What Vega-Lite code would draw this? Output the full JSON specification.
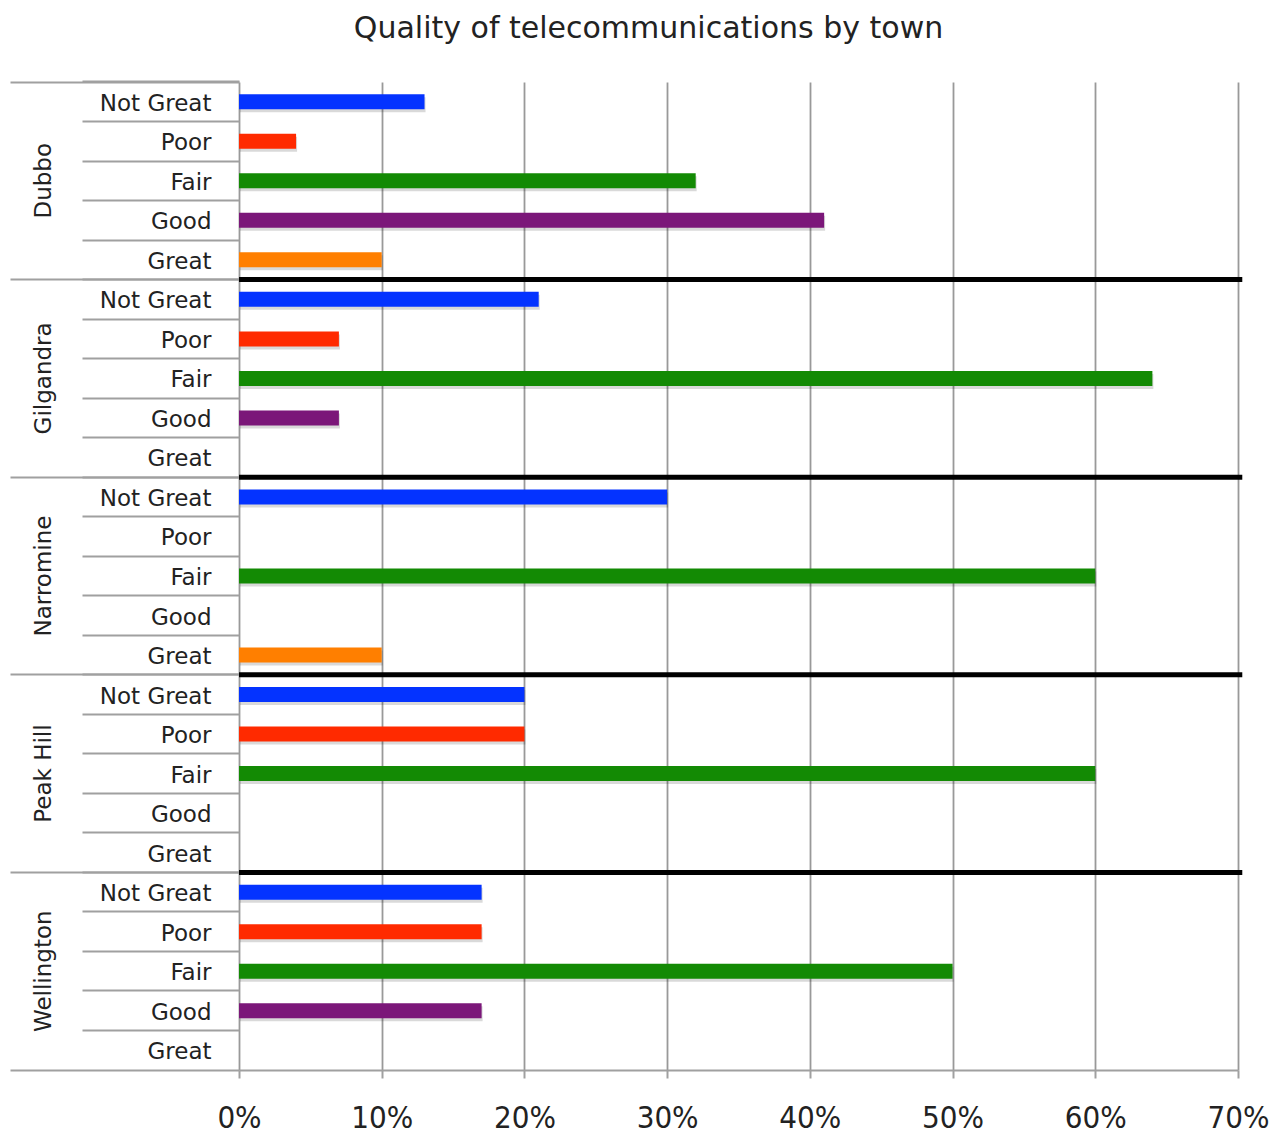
{
  "$schema": "https://vega.github.io/schema/vega-lite/v6.json",
  "width": 999,
  "height": 988,
  "autosize": {"type": "none"},
  "padding": {"left": 239, "top": 82, "right": 44, "bottom": 68},
  "background": "white",
  "title": {"text": "Quality of telecommunications by town", "anchor": "middle", "frame": "group", "dx": -90, "offset": 36, "fontSize": 30, "font": "DejaVu Sans", "fontWeight": "normal", "color": "#222"},
  "data": {"values": [
    {"town": "Dubbo", "category": "Not Great", "key": "Dubbo|Not Great", "value": 0.13},
    {"town": "Dubbo", "category": "Poor", "key": "Dubbo|Poor", "value": 0.04},
    {"town": "Dubbo", "category": "Fair", "key": "Dubbo|Fair", "value": 0.32},
    {"town": "Dubbo", "category": "Good", "key": "Dubbo|Good", "value": 0.41},
    {"town": "Dubbo", "category": "Great", "key": "Dubbo|Great", "value": 0.10},
    {"town": "Gilgandra", "category": "Not Great", "key": "Gilgandra|Not Great", "value": 0.21},
    {"town": "Gilgandra", "category": "Poor", "key": "Gilgandra|Poor", "value": 0.07},
    {"town": "Gilgandra", "category": "Fair", "key": "Gilgandra|Fair", "value": 0.64},
    {"town": "Gilgandra", "category": "Good", "key": "Gilgandra|Good", "value": 0.07},
    {"town": "Gilgandra", "category": "Great", "key": "Gilgandra|Great", "value": 0},
    {"town": "Narromine", "category": "Not Great", "key": "Narromine|Not Great", "value": 0.30},
    {"town": "Narromine", "category": "Poor", "key": "Narromine|Poor", "value": 0},
    {"town": "Narromine", "category": "Fair", "key": "Narromine|Fair", "value": 0.60},
    {"town": "Narromine", "category": "Good", "key": "Narromine|Good", "value": 0},
    {"town": "Narromine", "category": "Great", "key": "Narromine|Great", "value": 0.10},
    {"town": "Peak Hill", "category": "Not Great", "key": "Peak Hill|Not Great", "value": 0.20},
    {"town": "Peak Hill", "category": "Poor", "key": "Peak Hill|Poor", "value": 0.20},
    {"town": "Peak Hill", "category": "Fair", "key": "Peak Hill|Fair", "value": 0.60},
    {"town": "Peak Hill", "category": "Good", "key": "Peak Hill|Good", "value": 0},
    {"town": "Peak Hill", "category": "Great", "key": "Peak Hill|Great", "value": 0},
    {"town": "Wellington", "category": "Not Great", "key": "Wellington|Not Great", "value": 0.17},
    {"town": "Wellington", "category": "Poor", "key": "Wellington|Poor", "value": 0.17},
    {"town": "Wellington", "category": "Fair", "key": "Wellington|Fair", "value": 0.50},
    {"town": "Wellington", "category": "Good", "key": "Wellington|Good", "value": 0.17},
    {"town": "Wellington", "category": "Great", "key": "Wellington|Great", "value": 0}
  ]},
  "layer": [
    {
      "mark": {"type": "bar", "size": 15, "color": "#000", "opacity": 0.15, "yOffset": 3, "xOffset": 1},
      "encoding": {
        "y": {"field": "key", "type": "nominal", "sort": null,
              "scale": {"type": "band", "paddingInner": 0, "paddingOuter": 0},
              "axis": {"orient": "left", "title": null, "labels": false, "domain": false, "ticks": true, "bandPosition": 0, "tickSize": 157, "tickColor": "#a0a0a0", "tickWidth": 2}},
        "x": {"field": "value", "type": "quantitative", "scale": {"domain": [0, 0.7], "nice": false, "zero": true},
              "axis": {"title": null, "values": [0, 0.1, 0.2, 0.3, 0.4, 0.5, 0.6, 0.7], "format": ".0%", "grid": true, "gridColor": "#999", "gridWidth": 1.8, "domainColor": "#a0a0a0", "domainWidth": 2, "tickColor": "#a0a0a0", "tickWidth": 2, "tickSize": 8, "labelFont": "DejaVu Sans Condensed, DejaVu Sans", "labelFontSize": 31, "labelColor": "#222", "labelPadding": 25, "labelFlush": false}}
      }
    },
    {
      "mark": {"type": "bar", "size": 15},
      "encoding": {
        "y": {"field": "key", "type": "nominal", "sort": null,
              "axis": {"orient": "left", "title": null, "ticks": false, "domain": false, "labelExpr": "split(datum.value, '|')[1]", "labelFont": "DejaVu Sans", "labelFontSize": 23, "labelColor": "#222", "labelPadding": 28, "labelOffset": 2}},
        "x": {"field": "value", "type": "quantitative"},
        "color": {"field": "category", "type": "nominal", "legend": null,
                  "scale": {"domain": ["Not Great", "Poor", "Fair", "Good", "Great"], "range": ["#0433ff", "#ff2a00", "#138a04", "#7b1779", "#ff7f00"]}}
      }
    },
    {
      "transform": [{"filter": "datum.category == 'Not Great' && datum.town != 'Dubbo'"}],
      "mark": {"type": "rule", "color": "#000", "strokeWidth": 5},
      "encoding": {
        "y": {"field": "key", "type": "nominal", "sort": null, "bandPosition": 0,
              "axis": {"orient": "left", "title": null, "labels": false, "domain": false, "bandPosition": 0, "tickSize": 229, "tickColor": "#a0a0a0", "tickWidth": 2,
                       "values": ["Gilgandra|Not Great", "Narromine|Not Great", "Peak Hill|Not Great", "Wellington|Not Great"]}},
        "x": {"datum": 0},
        "x2": {"datum": 0.703}
      }
    },
    {
      "mark": {"type": "point", "opacity": 0},
      "encoding": {
        "y": {"field": "key", "type": "nominal", "sort": null,
              "axis": {"orient": "left", "title": null, "ticks": false, "domain": false, "labelAngle": -90, "labelAlign": "center", "labelBaseline": "middle", "labelPadding": 196, "labelFont": "DejaVu Sans", "labelFontSize": 23, "labelColor": "#222", "labelExpr": "split(datum.value, '|')[0]",
                       "values": ["Dubbo|Fair", "Gilgandra|Fair", "Narromine|Fair", "Peak Hill|Fair", "Wellington|Fair"]}},
        "x": {"field": "value", "type": "quantitative"}
      }
    },
    {
      "mark": {"type": "point", "opacity": 0},
      "encoding": {
        "y": {"field": "key", "type": "nominal", "sort": null,
              "axis": {"orient": "left", "title": null, "labels": false, "domain": false, "bandPosition": 1, "tickSize": 229, "tickColor": "#a0a0a0", "tickWidth": 2,
                       "values": ["Wellington|Great"]}},
        "x": {"field": "value", "type": "quantitative"}
      }
    },
    {
      "mark": {"type": "point", "opacity": 0},
      "encoding": {
        "y": {"field": "key", "type": "nominal", "sort": null,
              "axis": {"orient": "left", "title": null, "labels": false, "domain": false, "bandPosition": 0, "tickOffset": -39.52, "tickSize": 229, "tickColor": "#a0a0a0", "tickWidth": 2,
                       "values": ["Dubbo|Poor"]}},
        "x": {"field": "value", "type": "quantitative"}
      }
    }
  ],
  "resolve": {"axis": {"y": "independent"}},
  "config": {"view": {"stroke": null}}
}
